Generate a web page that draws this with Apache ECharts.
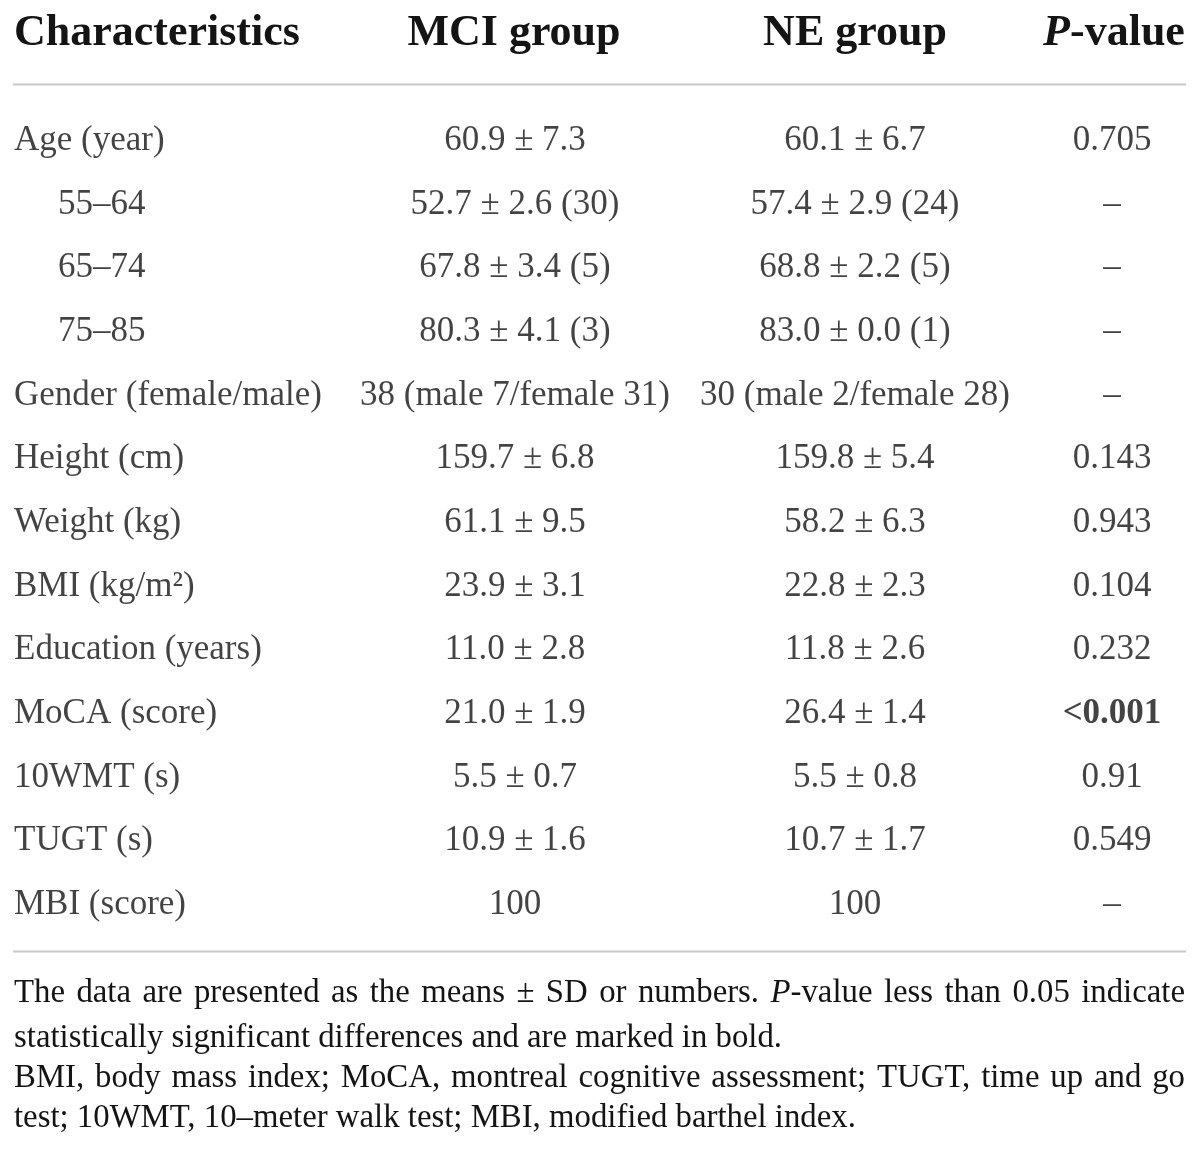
<!DOCTYPE html>
<html>
<head>
<meta charset="utf-8">
<script src="https://cdn.jsdelivr.net/npm/echarts@6/dist/echarts.min.js"></script>
<style>
html,body{margin:0;padding:0;background:#ffffff;}
#chart{width:1200px;height:1158px;}
</style>
</head>
<body>
<div id="chart"></div>
<script>
// ---------- table content ----------
const headers = ['Characteristics', 'MCI group', 'NE group', 'P-value'];
const characteristics = ['Age (year)', '55–64', '65–74', '75–85', 'Gender (female/male)',
  'Height (cm)', 'Weight (kg)', 'BMI (kg/m²)', 'Education (years)', 'MoCA (score)',
  '10WMT (s)', 'TUGT (s)', 'MBI (score)'];
const subRows = [false, true, true, true, false, false, false, false, false, false, false, false, false];
const mciGroup = ['60.9 ± 7.3', '52.7 ± 2.6 (30)', '67.8 ± 3.4 (5)', '80.3 ± 4.1 (3)',
  '38 (male 7/female 31)', '159.7 ± 6.8', '61.1 ± 9.5', '23.9 ± 3.1', '11.0 ± 2.8',
  '21.0 ± 1.9', '5.5 ± 0.7', '10.9 ± 1.6', '100'];
const neGroup = ['60.1 ± 6.7', '57.4 ± 2.9 (24)', '68.8 ± 2.2 (5)', '83.0 ± 0.0 (1)',
  '30 (male 2/female 28)', '159.8 ± 5.4', '58.2 ± 6.3', '22.8 ± 2.3', '11.8 ± 2.6',
  '26.4 ± 1.4', '5.5 ± 0.8', '10.7 ± 1.7', '100'];
const pValues = ['0.705', '–', '–', '–', '–', '0.143', '0.943', '0.104', '0.232',
  '<0.001', '0.91', '0.549', '–'];
const footnoteLines = [
  'The data are presented as the means ± SD or numbers. *P*-value less than 0.05 indicate',
  'statistically significant differences and are marked in bold.',
  'BMI, body mass index; MoCA, montreal cognitive assessment; TUGT, time up and go',
  'test; 10WMT, 10–meter walk test; MBI, modified barthel index.'
];
const footnoteJustified = [true, false, true, false];

// ---------- layout / style ----------
const FONT = '"Liberation Serif", "Times New Roman", serif';
const INK = '#141414';
const BODY_SIZE = 35;
const HEAD_SIZE = 44;
const LEFT = 14, RIGHT = 1186;
const INDENT = 58;
const COL_X = [LEFT, 515, 855, 1112];
const HEAD_X = [LEFT, 514, 855, 1114];
const FIRST_ROW_BASE = 150, ROW_PITCH = 63.67;
const RULE_Y = [84.5, 951.5];
const HEAD_BASE = 45;
const FOOT_BASE = [1002, 1046.5, 1087, 1127];
const FOOT_WIDTH_TARGET = [null, 771, null, 839];

const ctx = document.createElement('canvas').getContext('2d');
// distance from canvas 'middle' line down to the alphabetic baseline
function midOffset(size, weight) {
  ctx.font = (weight || 'normal') + ' ' + size + 'px ' + FONT;
  ctx.textBaseline = 'middle';
  const m = ctx.measureText('H');
  ctx.textBaseline = 'alphabetic';
  return m.actualBoundingBoxDescent;
}

function isBold(p) {
  if (p.charAt(0) === '<') return true;
  const v = parseFloat(p);
  return !isNaN(v) && v < 0.05;
}

// ---------- footnote measuring ----------
function parseSegs(line) {
  const parts = line.split('*');
  return parts.map((t, i) => ({ t: t, italic: i % 2 === 1 })).filter(s => s.t.length);
}
function segWidth(seg, size) {
  ctx.font = (seg.italic ? 'italic ' : '') + size + 'px ' + FONT;
  return ctx.measureText(seg.t).width;
}
function lineWords(line) {
  const segs = parseSegs(line);
  const words = [[]];
  segs.forEach(s => {
    const pieces = s.t.split(' ');
    pieces.forEach((p, k) => {
      if (k > 0) words.push([]);
      if (p.length) words[words.length - 1].push({ t: p, italic: s.italic });
    });
  });
  return words.filter(w => w.length);
}
function wordWidth(w, size) { return w.reduce((a, s) => a + segWidth(s, size), 0); }
function lineNatural(words, size) {
  const sp = segWidth({ t: ' ', italic: false }, size);
  return words.reduce((a, w) => a + wordWidth(w, size), 0) + sp * (words.length - 1);
}
let refSize = 33, ratios = [];
footnoteLines.forEach((l, i) => {
  if (FOOT_WIDTH_TARGET[i]) ratios.push(FOOT_WIDTH_TARGET[i] / lineNatural(lineWords(l), refSize));
});
const FOOT_SIZE = refSize * ratios.reduce((a, b) => a + b, 0) / ratios.length;

const graphics = [];
// rules
RULE_Y.forEach(y => graphics.push({
  type: 'line', silent: true,
  shape: { x1: LEFT - 1, y1: y, x2: RIGHT, y2: y },
  style: { stroke: '#c8c8c8', lineWidth: 2 }
}));
// header
const headOff = midOffset(HEAD_SIZE, 'bold');
headers.forEach((h, i) => {
  const txt = i === 3 ? '{bi|P}{b|-value}' : '{b|' + h + '}';
  graphics.push({
    type: 'text', silent: true,
    x: HEAD_X[i], y: HEAD_BASE - headOff,
    style: {
      text: txt, align: i === 0 ? 'left' : 'center', verticalAlign: 'middle',
      fill: INK,
      rich: {
        b: { fontFamily: FONT, fontWeight: 'bold', fontSize: HEAD_SIZE, fill: INK },
        bi: { fontFamily: FONT, fontWeight: 'bold', fontStyle: 'italic', fontSize: HEAD_SIZE, fill: INK }
      }
    }
  });
});
// footnote words
const footOff = midOffset(FOOT_SIZE);
footnoteLines.forEach((line, li) => {
  const words = lineWords(line);
  const sp = segWidth({ t: ' ', italic: false }, FOOT_SIZE);
  let gap = sp;
  if (footnoteJustified[li]) {
    const nat = lineNatural(words, FOOT_SIZE);
    gap = sp + ((RIGHT - 1 - LEFT) - nat) / (words.length - 1);
  }
  let x = LEFT;
  const y = FOOT_BASE[li] - footOff;
  words.forEach(w => {
    w.forEach(s => {
      graphics.push({
        type: 'text', silent: true, x: x, y: y,
        style: {
          text: s.t, align: 'left', verticalAlign: 'middle', fill: INK,
          fontFamily: FONT, fontSize: FOOT_SIZE, fontStyle: s.italic ? 'italic' : 'normal'
        }
      });
      x += segWidth(s, FOOT_SIZE);
    });
    x += gap;
  });
});

// ---------- table body through category axis ----------
const rowCount = characteristics.length;
const bodyOff = midOffset(BODY_SIZE);
const ROW_TOP = FIRST_ROW_BASE - bodyOff - ROW_PITCH / 2;
function cellSeries(values, colIdx, align, formatter) {
  return {
    type: 'scatter', silent: true, animation: false,
    symbolSize: 1, itemStyle: { color: 'rgba(0,0,0,0)' },
    data: values.map((v, i) => ({
      value: [colIdx === 0 && subRows[i] ? INDENT : COL_X[colIdx], i],
      text: v
    })),
    label: {
      show: true, position: 'inside', align: align, verticalAlign: 'middle',
      fontFamily: FONT, fontSize: BODY_SIZE, color: INK,
      textBorderWidth: 0,
      formatter: formatter || (p => p.data.text),
      rich: {
        b: { fontFamily: FONT, fontSize: BODY_SIZE, fontWeight: 'bold', color: INK }
      }
    },
    labelLayout: { hideOverlap: false }
  };
}

const chart = echarts.init(document.getElementById('chart'), null, { renderer: 'canvas' });
chart.setOption({
  backgroundColor: '#ffffff',
  animation: false,
  grid: { left: 0, right: 0, top: ROW_TOP, height: ROW_PITCH * rowCount, containLabel: false },
  xAxis: { type: 'value', min: 0, max: 1200, show: false },
  yAxis: { type: 'category', data: characteristics, inverse: true, show: false, boundaryGap: true },
  graphic: graphics,
  series: [
    cellSeries(characteristics, 0, 'left'),
    cellSeries(mciGroup, 1, 'center'),
    cellSeries(neGroup, 2, 'center'),
    cellSeries(pValues, 3, 'center', p => isBold(p.data.text) ? '{b|' + p.data.text + '}' : p.data.text)
  ]
});
</script>
</body>
</html>
